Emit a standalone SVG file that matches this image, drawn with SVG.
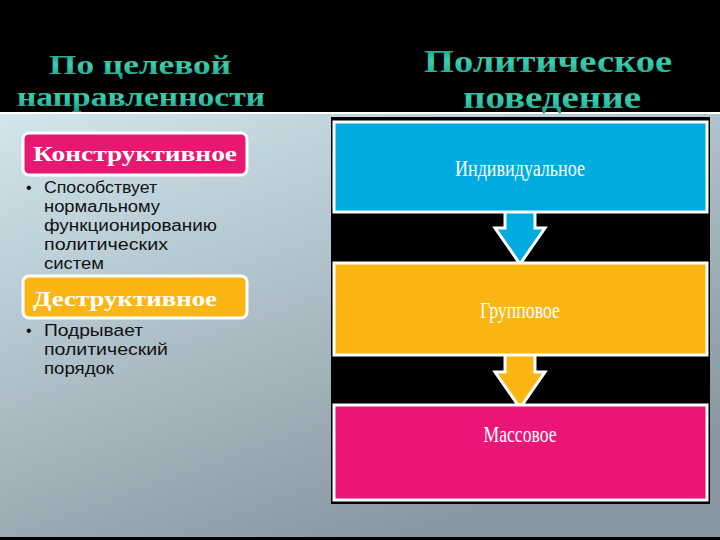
<svg xmlns="http://www.w3.org/2000/svg" width="720" height="540" viewBox="0 0 720 540">
<defs>
<linearGradient id="bg" x1="0" y1="0" x2="0.6" y2="1"><stop offset="0" stop-color="#d2e6ee"/><stop offset="1" stop-color="#8796a0"/></linearGradient>
<linearGradient id="tt" x1="0" y1="0" x2="0" y2="1"><stop offset="0" stop-color="#1a8c80"/><stop offset="0.5" stop-color="#3ccfb0"/><stop offset="1" stop-color="#1a9a88"/></linearGradient>
<style>
.t{font-family:"Liberation Serif",serif;font-weight:bold;fill:url(#tt);text-anchor:middle}
.h{font-family:"Liberation Serif",serif;font-weight:bold;fill:#fff;font-size:21px}
.b{font-family:"Liberation Sans",sans-serif;font-size:16px;fill:#111}
.n{font-family:"Liberation Serif",serif;fill:#fff;font-size:23px;text-anchor:middle}
.box{stroke:#fff;stroke-width:3}
</style>
</defs>
<rect width="720" height="540" fill="#000"/>
<rect x="0" y="113" width="720" height="424" fill="url(#bg)"/>
<line x1="0" y1="113" x2="720" y2="113" stroke="#fff" stroke-width="2"/>
<text class="t" x="140" y="74" font-size="28" textLength="182" lengthAdjust="spacingAndGlyphs">По целевой</text>
<text class="t" x="141" y="106" font-size="28" textLength="248" lengthAdjust="spacingAndGlyphs">направленности</text>
<text class="t" x="548" y="72" font-size="31" textLength="248" lengthAdjust="spacingAndGlyphs">Политическое</text>
<text class="t" x="552" y="108" font-size="31" textLength="178" lengthAdjust="spacingAndGlyphs">поведение</text>
<g id="constructive">
<rect class="box" x="23" y="133" width="224" height="42" rx="6" fill="#e8176f"/>
<text class="h" x="33" y="161" textLength="204" lengthAdjust="spacingAndGlyphs">Конструктивное</text>
<text class="b" x="26" y="193">•</text>
<text class="b" x="44" y="193" textLength="113" lengthAdjust="spacingAndGlyphs">Способствует</text>
<text class="b" x="44" y="212" textLength="116" lengthAdjust="spacingAndGlyphs">нормальному</text>
<text class="b" x="44" y="231" textLength="173" lengthAdjust="spacingAndGlyphs">функционированию</text>
<text class="b" x="44" y="250" textLength="124" lengthAdjust="spacingAndGlyphs">политических</text>
<text class="b" x="44" y="269" textLength="60" lengthAdjust="spacingAndGlyphs">систем</text>
</g>
<g id="destructive">
<rect class="box" x="23" y="276" width="224" height="42" rx="6" fill="#fbb614"/>
<text class="h" x="33" y="306" textLength="184" lengthAdjust="spacingAndGlyphs">Деструктивное</text>
<text class="b" x="26" y="336">•</text>
<text class="b" x="44" y="336" textLength="99" lengthAdjust="spacingAndGlyphs">Подрывает</text>
<text class="b" x="44" y="355" textLength="124" lengthAdjust="spacingAndGlyphs">политический</text>
<text class="b" x="44" y="374" textLength="70" lengthAdjust="spacingAndGlyphs">порядок</text>
</g>
<rect x="331" y="117" width="379" height="387" fill="#000"/>
<g id="connectors">
<path class="box" d="M505 210 V228 H495 L520 264 L545 228 H535 V210 Z" fill="#00abdf"/>
<path class="box" d="M505 354 V372 H495 L520 408 L545 372 H535 V354 Z" fill="#fbb614"/>
</g>
<g id="individual">
<rect class="box" x="334" y="122" width="373" height="90" fill="#00abdf"/>
<text class="n" x="520" y="176" textLength="130" lengthAdjust="spacingAndGlyphs">Индивидуальное</text>
</g>
<g id="group">
<rect class="box" x="334" y="263" width="373" height="92" fill="#fbb614"/>
<text class="n" x="520" y="318" textLength="80" lengthAdjust="spacingAndGlyphs">Групповое</text>
</g>
<g id="mass">
<rect class="box" x="334" y="405" width="373" height="95" fill="#ec1577"/>
<text class="n" x="520" y="442" textLength="73" lengthAdjust="spacingAndGlyphs">Массовое</text>
</g>
</svg>
